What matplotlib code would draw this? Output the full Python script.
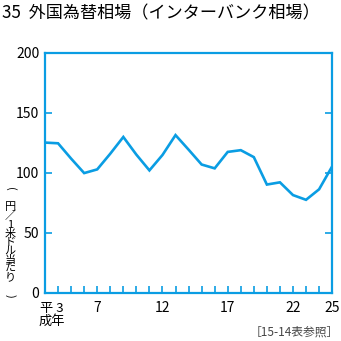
import matplotlib
matplotlib.use('Agg')
import matplotlib.pyplot as plt

plt.rcParams['font.family'] = ['Noto Sans CJK JP', 'DejaVu Sans']

# 平成年 / 年末の円相場 (円／1米ドル)
years = list(range(3, 26))
rates = [125.25, 124.65, 111.89, 99.83, 102.91, 115.98, 129.92, 115.20,
         102.08, 114.90, 131.47, 119.37, 106.97, 103.78, 117.48, 118.92,
         113.12, 90.28, 92.13, 81.51, 77.57, 86.32, 105.37]
xtick_pos = [3, 7, 12, 17, 22, 25]
xtick_lab = ['', '7', '12', '17', '22', '25']
ytick_pos = [0, 50, 100, 150, 200]

blue = '#0a9de3'

fig = plt.figure(figsize=(3.41, 3.41), dpi=100)
ax = fig.add_axes([0.132, 0.141, 0.842, 0.704])

ax.plot(years, rates, color=blue, lw=1.9, solid_joinstyle='miter')
ax.set_xlim(3, 25)
ax.set_ylim(0, 200)

for s in ax.spines.values():
    s.set_color(blue)
    s.set_linewidth(1.6)

ax.set_xticks(years, minor=True)
ax.set_xticks(xtick_pos)
ax.set_xticklabels(xtick_lab)
ax.set_yticks(ytick_pos)
ax.tick_params(axis='x', which='both', direction='in', length=5, width=1.2,
               color=blue, labelsize=10, pad=6)
ax.tick_params(axis='y', direction='in', length=5, width=1.2, color=blue,
               labelsize=10, right=True, pad=4)

fig.text(0.005, 0.962, '35  外国為替相場（インターバンク相場）', fontsize=12.3,
         va='center', ha='left')

# 平成3年 label
fig.text(0.152, 0.076, '平 3\n成年', fontsize=9.5, ha='center', va='center',
         linespacing=0.95)

# vertical y label
ylab = ['円', '／', '1', '米', 'ド', 'ル', '当', 'た', 'り']
fig.text(0.03, 0.29, '\n'.join(ylab), fontsize=8, ha='center', va='center',
         linespacing=0.83)
fig.text(0.03, 0.447, '(', fontsize=8, rotation=-90, ha='center', va='center')
fig.text(0.03, 0.131, ')', fontsize=8, rotation=-90, ha='center', va='center')

fig.text(0.995, 0.025, '［15-14表参照］', fontsize=8.5, ha='right', va='center',
         color='#444444')

fig.savefig('out.png', dpi=100)
